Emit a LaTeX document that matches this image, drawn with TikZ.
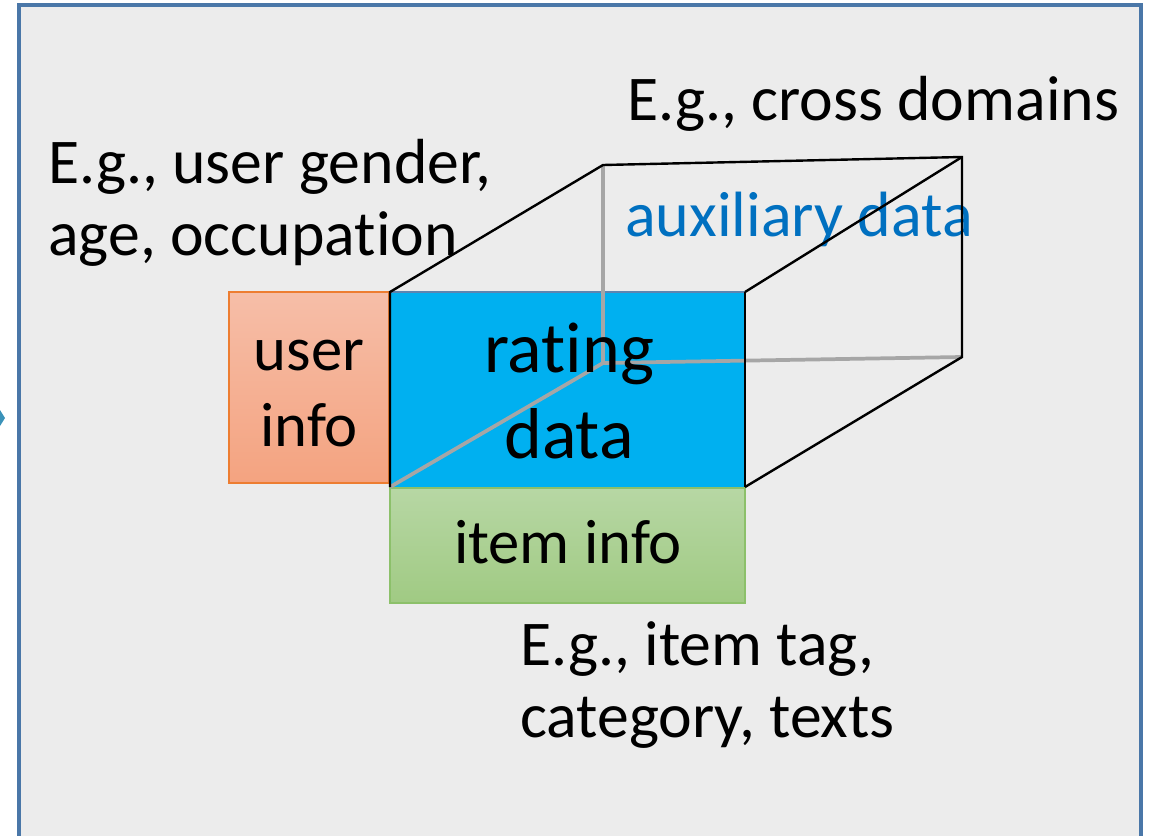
\documentclass[tikz,border=0pt]{standalone}
\usepackage{fontspec}
\setmainfont[Ligatures=NoCommon]{Carlito}
\newcommand{\nolig}{\kern0pt\relax}
\begin{document}
\begin{tikzpicture}[x=0.75pt,y=-0.75pt,
  lbl/.style={inner sep=0pt,anchor=base west},
  ctr/.style={inner sep=0pt,anchor=base},
  bigtxt/.style={font=\fontsize{47}{56}\selectfont},
  labtxt/.style={font=\fontsize{47.8}{56}\selectfont},
  hugetxt/.style={font=\fontsize{54}{64}\selectfont},
  edge/.style={black,line width=1.8pt},
  hidden/.style={color={rgb,255:red,166;green,166;blue,166},line width=2.8pt}]
\definecolor{frameblue}{HTML}{4A77A8}
\definecolor{bgray}{HTML}{ECECEC}
\definecolor{ratingblue}{HTML}{00B0F0}
\definecolor{auxblue}{HTML}{0070C0}
\definecolor{orangeedge}{HTML}{ED7D31}
\definecolor{greenedge}{HTML}{8CC06A}
\useasboundingbox (0,0) rectangle (1155,835);
% frame
\fill[bgray] (19,5) rectangle (1141,845);
\draw[frameblue,line width=2.4pt] (19,845) -- (19,5) -- (1141,5) -- (1141,845);
\fill[frameblue!80!cyan] (0,410) -- (5,418) -- (0,426) -- cycle;
% cube corners
\coordinate (ftl) at (390,292);
\coordinate (ftr) at (745,292);
\coordinate (fbr) at (745,487);
\coordinate (fbl) at (390,487);
\coordinate (btl) at (603,165);
\coordinate (btr) at (962,157);
\coordinate (bbr) at (962,357);
\coordinate (bbl) at (603,363);
% boxes
\shade[top color={rgb,255:red,246;green,190;blue,168},bottom color={rgb,255:red,244;green,163;blue,128}]
  (229,292) rectangle (389,483);
\draw[orangeedge,line width=0.8pt] (229,292) rectangle (389,483);
\node[bigtxt,ctr] (userinfo) at (309,370) {user};
\node[bigtxt,ctr] (userinfo2) at (309,446) {info};
\fill[ratingblue] (ftl) rectangle (fbr);
\draw[frameblue!90,line width=1.4pt] (ftl) -- (ftr) -- (fbr);
\shade[top color={rgb,255:red,183;green,215;blue,164},bottom color={rgb,255:red,160;green,202;blue,131}]
  (390,488) rectangle (745,603);
\draw[greenedge,line width=0.8pt] (390,488) rectangle (745,603);
\node[bigtxt,ctr] (iteminfo) at (568,563) {item info};
% hidden edges
\draw[hidden] (btl) -- (bbl) -- (bbr);
\draw[hidden] (bbl) -- (fbl);
\node[hugetxt,ctr] (rating) at (569,372) {rat\nolig ing};
\node[hugetxt,ctr] (data) at (569,458) {data};
\node[lbl,font=\fontsize{48}{56}\selectfont,text=auxblue] (aux) at (625,236) {auxiliary data};
% visible edges
\draw[edge] (fbl) -- (ftl) -- (btl) -- (btr) -- (bbr) -- (fbr);
\draw[edge] (ftr) -- (btr);
\draw[edge] (ftr) -- (fbr);
% labels
\node[lbl,labtxt] (cross) at (627,120) {E.g., cross domains};
\node[lbl,labtxt] (userex1) at (48,183) {E.g., user gender,};
\node[lbl,labtxt] (userex2) at (48,255) {age, occupat\nolig ion};
\node[lbl,labtxt] (itemex1) at (520,665) {E.g., item tag,};
\node[lbl,labtxt] (itemex2) at (520,737) {category, texts};
\end{tikzpicture}
\end{document}
